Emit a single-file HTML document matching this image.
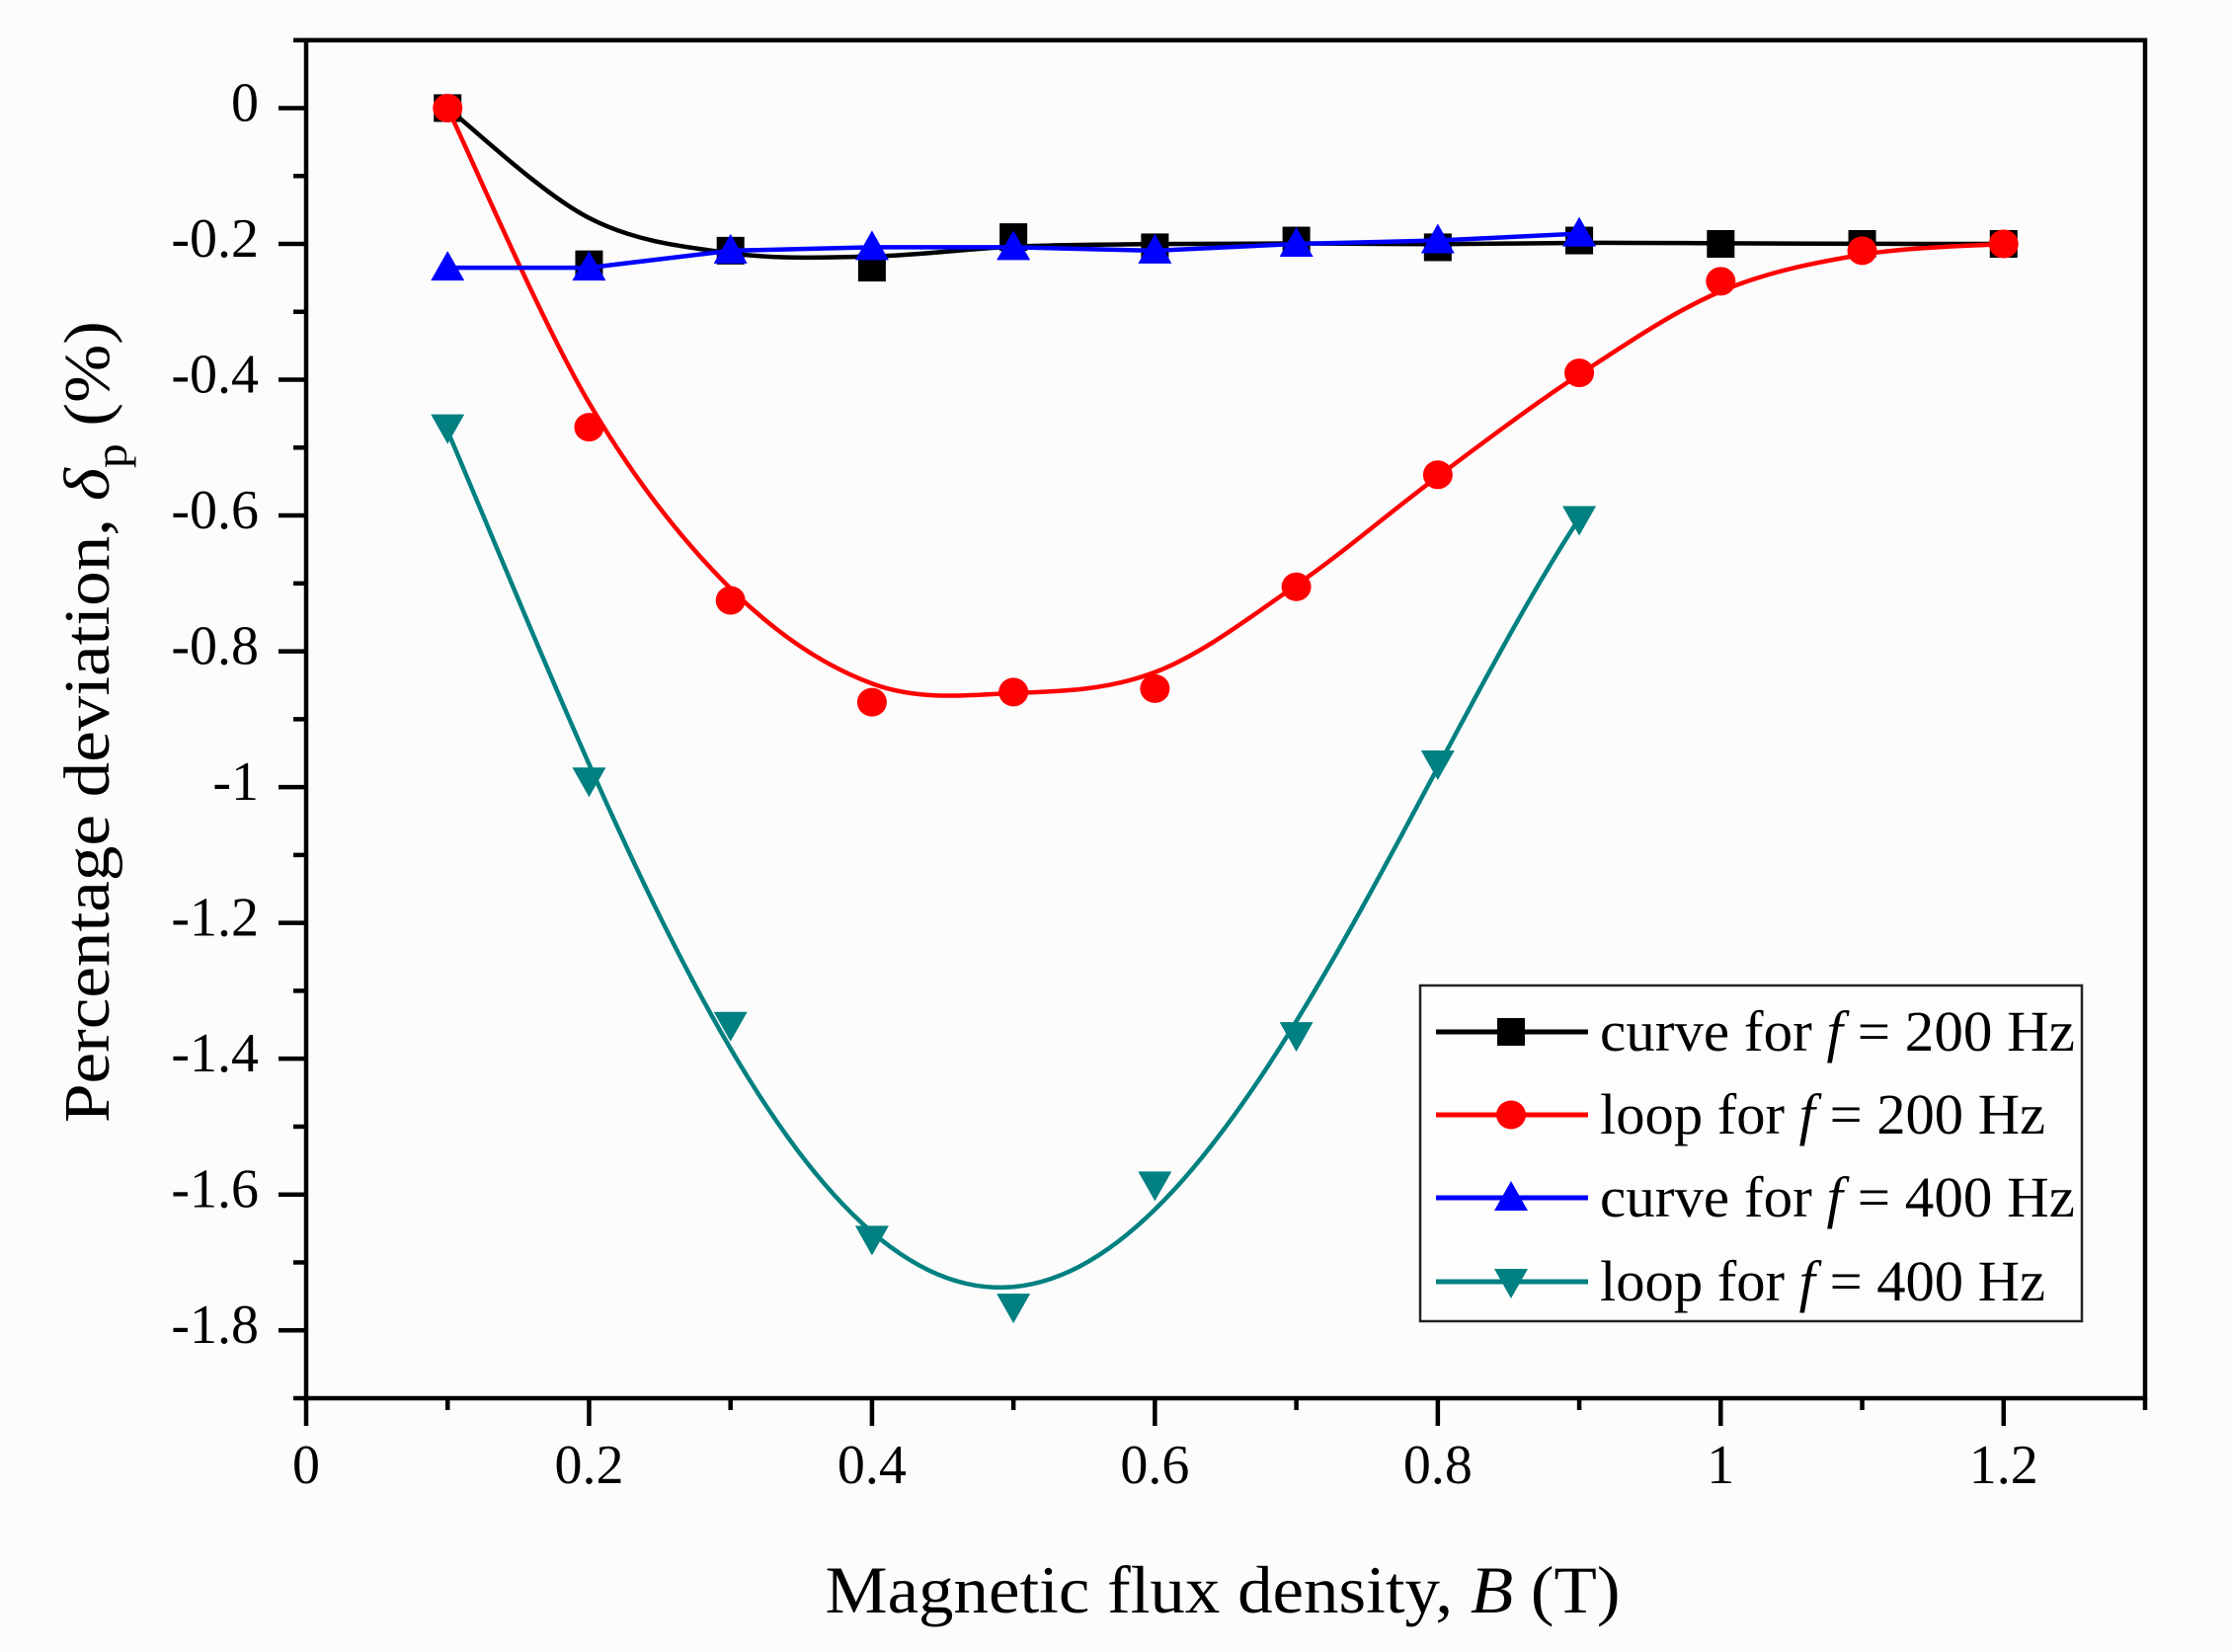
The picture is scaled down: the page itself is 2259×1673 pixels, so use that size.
<!DOCTYPE html>
<html><head><meta charset="utf-8">
<style>
html,body{margin:0;padding:0;background:#fdfdfd;}
svg{display:block;font-family:"Liberation Serif",serif;}
</style></head>
<body>
<svg id="chart" width="2259" height="1673" viewBox="0 0 2259 1673" xmlns="http://www.w3.org/2000/svg">
<rect x="0" y="0" width="2259" height="1673" fill="#fcfcfd"/>
<g id="plot"></g>
<g id="axes"></g>
<text x="1238" y="1633" font-size="68" text-anchor="middle" textLength="805" lengthAdjust="spacingAndGlyphs">Magnetic flux density, <tspan font-style="italic">B</tspan> (T)</text>
<text transform="translate(110,731) rotate(-90)" font-size="66" text-anchor="middle" textLength="812" lengthAdjust="spacingAndGlyphs">Percentage deviation, <tspan font-style="italic">δ</tspan><tspan font-size="46" dy="18">p</tspan><tspan dy="-18"> (%)</tspan></text>
<g id="legend"></g>
</svg>
<script>
const xBlack = [0.1,0.2,0.3,0.4,0.5,0.6,0.7,0.8,0.9,1.0,1.1,1.2];
const curve200 = [0,-0.23,-0.21,-0.235,-0.19,-0.205,-0.195,-0.205,-0.195,-0.2,-0.2,-0.2];
const xRed = [0.1,0.2,0.3,0.4,0.5,0.6,0.7,0.8,0.9,1.0,1.1,1.2];
const loop200 = [0,-0.47,-0.725,-0.875,-0.86,-0.855,-0.705,-0.54,-0.39,-0.255,-0.21,-0.2];
const xBlue = [0.1,0.2,0.3,0.4,0.5,0.6,0.7,0.8,0.9];
const curve400 = [-0.235,-0.235,-0.21,-0.205,-0.205,-0.21,-0.2,-0.195,-0.185];
const xTeal = [0.1,0.2,0.3,0.4,0.5,0.6,0.7,0.8,0.9];
const loop400 = [-0.47,-0.99,-1.35,-1.665,-1.765,-1.585,-1.365,-0.965,-0.605];
const xTicks = [0,0.2,0.4,0.6,0.8,1,1.2];
const xTickLabels = ["0","0.2","0.4","0.6","0.8","1","1.2"];
const yTicks = [0,-0.2,-0.4,-0.6,-0.8,-1,-1.2,-1.4,-1.6,-1.8];
const yTickLabels = ["0","-0.2","-0.4","-0.6","-0.8","-1","-1.2","-1.4","-1.6","-1.8"];
const legendLabels = ["curve for ","loop for ","curve for ","loop for "];
const legendFreq = ["200 Hz","200 Hz","400 Hz","400 Hz"];

const NS="http://www.w3.org/2000/svg";
const X0=310, X1=2172, XMIN=0, XMAX=1.3;
const Y0=40.7, Y1=1416, YMAX=0.1, YMIN=-1.9;
function sx(v){return X0+(v-XMIN)/(XMAX-XMIN)*(X1-X0);}
function sy(v){return Y0+(YMAX-v)/(YMAX-YMIN)*(Y1-Y0);}
function mk(tag,attrs,parent){const e=document.createElementNS(NS,tag);for(const k in attrs)e.setAttribute(k,attrs[k]);parent.appendChild(e);return e;}

const plot=document.getElementById('plot');
const axes=document.getElementById('axes');
const legend=document.getElementById('legend');

function smooth(ys){return ys.map((y,i)=>(i===0||i===ys.length-1)?y:(ys[i-1]+4*y+ys[i+1])/6);}
function crPath(xs,ys){
  const p=xs.map((x,i)=>[sx(x),sy(ys[i])]);
  let d=`M${p[0][0]},${p[0][1]}`;
  for(let i=0;i<p.length-1;i++){
    const p0=p[Math.max(0,i-1)],p1=p[i],p2=p[i+1],p3=p[Math.min(p.length-1,i+2)];
    const c1=[p1[0]+(p2[0]-p0[0])/6,p1[1]+(p2[1]-p0[1])/6];
    const c2=[p2[0]-(p3[0]-p1[0])/6,p2[1]-(p3[1]-p1[1])/6];
    d+=` C${c1[0]},${c1[1]} ${c2[0]},${c2[1]} ${p2[0]},${p2[1]}`;
  }
  return d;
}
function linPath(xs,ys){return xs.map((x,i)=>(i?'L':'M')+sx(x)+','+sy(ys[i])).join(' ');}
function polyFit(xs,ys,deg){
  const n=deg+1;const A=[];for(let i=0;i<n;i++){A.push(new Array(n+1).fill(0));}
  xs.forEach((x,k)=>{for(let i=0;i<n;i++){for(let j=0;j<n;j++)A[i][j]+=Math.pow(x,i+j);A[i][n]+=ys[k]*Math.pow(x,i);}});
  for(let i=0;i<n;i++){let m=i;for(let r=i+1;r<n;r++)if(Math.abs(A[r][i])>Math.abs(A[m][i]))m=r;[A[i],A[m]]=[A[m],A[i]];
    for(let r=0;r<n;r++){if(r===i)continue;const f=A[r][i]/A[i][i];for(let c=i;c<=n;c++)A[r][c]-=f*A[i][c];}}
  return A.map((row,i)=>row[n]/row[i]);
}
function fitPath(xs,ys,deg){
  const c=polyFit(xs,ys,deg);let d='';
  const a=xs[0],b=xs[xs.length-1];
  for(let i=0;i<=120;i++){const x=a+(b-a)*i/120;let y=0;c.forEach((ci,k)=>y+=ci*Math.pow(x,k));d+=(i?'L':'M')+sx(x)+','+sy(y)+' ';}
  return d;
}
function marker(type,cx,cy,color,parent,name){
  let e;
  if(type==='sq') e=mk('rect',{x:cx-14,y:cy-14,width:28,height:28,fill:color},parent);
  else if(type==='ci') e=mk('ellipse',{cx:cx,cy:cy,rx:15,ry:14.5,fill:color},parent);
  else if(type==='up') e=mk('polygon',{points:`${cx},${cy-17} ${cx-17},${cy+13} ${cx+17},${cy+13}`,fill:color},parent);
  else e=mk('polygon',{points:`${cx},${cy+17} ${cx-17},${cy-13} ${cx+17},${cy-13}`,fill:color},parent);
  
  
  return e;
}
const series=[
  {xs:xBlack,ys:curve200,color:'#000000',m:'sq',path:()=>crPath(xBlack,smooth(smooth(curve200))),name:'curve-200hz'},
  {xs:xRed,ys:loop200,color:'#ff0000',m:'ci',path:()=>crPath(xRed,smooth(loop200)),name:'loop-200hz'},
  {xs:xBlue,ys:curve400,color:'#0000ff',m:'up',path:()=>linPath(xBlue,curve400),name:'curve-400hz'},
  {xs:xTeal,ys:loop400,color:'#008080',m:'dn',path:()=>fitPath(xTeal,loop400,4),name:'loop-400hz'}
];
series.forEach(s=>{
  const g=mk('g',{},plot);
  
  
  const l=mk('path',{d:s.path(),fill:'none',stroke:s.color,'stroke-width':4.5},g);
  
  
  s.xs.forEach((x,i)=>marker(s.m,sx(x),sy(s.ys[i]),s.color,g,s.name+'-point'));
});

const fr=mk('rect',{x:X0,y:Y0,width:X1-X0,height:Y1-Y0,fill:'none',stroke:'#000','stroke-width':4.5},axes);


for(let k=0;k<=13;k++){
  const v=k/10;const major=(k%2===0);
  const t=mk('line',{x1:sx(v),x2:sx(v),y1:Y1,y2:Y1+(major?28:12),stroke:'#000','stroke-width':4.5},axes);
  
  
}
xTicks.forEach((v,i)=>{
  const t=mk('text',{x:sx(v),y:1502,'font-size':56,'text-anchor':'middle'},axes);
  t.textContent=xTickLabels[i];
  
  
});
for(let k=-19;k<=1;k++){
  const v=k/10;const major=(k%2===0);
  const t=mk('line',{x1:X0-(major?28:13),x2:X0,y1:sy(v),y2:sy(v),stroke:'#000','stroke-width':4.5},axes);
  
  
}
yTicks.forEach((v,i)=>{
  const t=mk('text',{x:262,y:sy(v)+13,'font-size':56,'text-anchor':'end'},axes);
  t.textContent=yTickLabels[i];
  
  
});
const lb=mk('rect',{x:1438,y:998,width:670,height:340,fill:'#fdfdfd',stroke:'#222','stroke-width':2.5},legend);


const ly=[1045,1129,1213,1298];
const tl=[481,451,481,451];
series.forEach((s,i)=>{
  const g=mk('g',{},legend);
  
  
  const l=mk('line',{x1:1454,x2:1608,y1:ly[i],y2:ly[i],stroke:s.color,'stroke-width':5},g);
  
  
  marker(s.m,1530,ly[i],s.color,g,'legend-marker');
  const t=mk('text',{x:1620,y:ly[i]+19,'font-size':58,textLength:tl[i],lengthAdjust:'spacingAndGlyphs'},g);
  t.innerHTML=legendLabels[i]+'<tspan font-style="italic">f</tspan> = '+legendFreq[i];
  
  
});
</script>
</body></html>
